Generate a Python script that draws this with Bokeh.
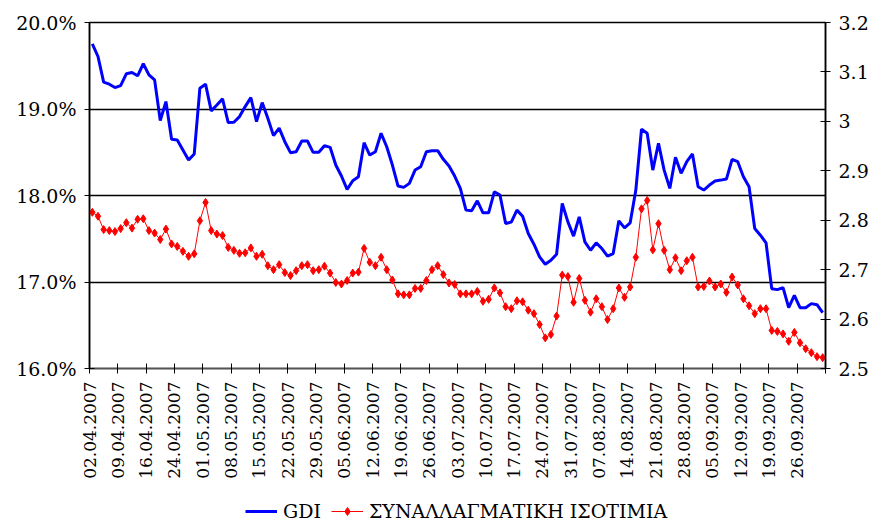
from bokeh.plotting import figure
from bokeh.layouts import column
from bokeh.models import (Range1d, LinearAxis, FixedTicker, Legend, LegendItem,
                          CustomJSTickFormatter)
from bokeh.embed import file_html
from bokeh.resources import INLINE

# ---- data ----
gdi = [19.754, 19.607, 19.311, 19.287, 19.248, 19.271, 19.407, 19.422, 19.384, 19.523,
       19.395, 19.337, 18.866, 19.086, 18.650, 18.642, 18.526, 18.410, 18.480, 19.241,
       19.287, 18.978, 19.047, 19.117, 18.843, 18.847, 18.912, 19.028, 19.132, 18.854,
       19.074, 18.893, 18.692, 18.778, 18.622, 18.495, 18.506, 18.630, 18.630, 18.499,
       18.499, 18.576, 18.557, 18.352, 18.225, 18.071, 18.171, 18.217, 18.611, 18.468,
       18.506, 18.719, 18.564, 18.352, 18.109, 18.094, 18.140, 18.294, 18.333, 18.506,
       18.518, 18.518, 18.418, 18.341, 18.225, 18.082, 17.831, 17.823, 17.939, 17.800,
       17.800, 18.043, 18.005, 17.677, 17.692, 17.831, 17.761, 17.561, 17.437, 17.290,
       17.205, 17.251, 17.321, 17.908, 17.695, 17.530, 17.753, 17.464, 17.367, 17.452,
       17.387, 17.298, 17.329, 17.707, 17.626, 17.684, 18.063, 18.766, 18.719, 18.294,
       18.604, 18.294, 18.082, 18.441, 18.256, 18.391, 18.480, 18.101, 18.063, 18.121,
       18.167, 18.178, 18.190, 18.418, 18.391, 18.217, 18.101, 17.618, 17.541, 17.452,
       16.923, 16.912, 16.935, 16.703, 16.846, 16.703, 16.703, 16.750, 16.738, 16.645]

fx = [2.816, 2.808, 2.781, 2.779, 2.777, 2.783, 2.795, 2.784, 2.802, 2.803,
      2.779, 2.774, 2.761, 2.782, 2.752, 2.747, 2.737, 2.727, 2.732, 2.799,
      2.836, 2.779, 2.772, 2.769, 2.745, 2.739, 2.733, 2.734, 2.744, 2.727,
      2.731, 2.708, 2.700, 2.710, 2.694, 2.688, 2.698, 2.708, 2.710, 2.698,
      2.700, 2.707, 2.693, 2.674, 2.671, 2.678, 2.693, 2.695, 2.743, 2.715,
      2.708, 2.725, 2.700, 2.679, 2.651, 2.649, 2.649, 2.662, 2.662, 2.678,
      2.700, 2.708, 2.690, 2.673, 2.670, 2.651, 2.651, 2.651, 2.656, 2.636,
      2.640, 2.663, 2.653, 2.625, 2.621, 2.637, 2.635, 2.618, 2.611, 2.589,
      2.562, 2.569, 2.606, 2.689, 2.686, 2.634, 2.682, 2.638, 2.614, 2.641,
      2.625, 2.599, 2.621, 2.663, 2.644, 2.665, 2.725, 2.823, 2.840, 2.740,
      2.793, 2.739, 2.700, 2.724, 2.698, 2.718, 2.725, 2.665, 2.666, 2.677,
      2.665, 2.671, 2.654, 2.685, 2.669, 2.641, 2.627, 2.611, 2.621, 2.621,
      2.577, 2.575, 2.570, 2.555, 2.573, 2.552, 2.540, 2.532, 2.524, 2.522]

date_labels = ["02.04.2007", "09.04.2007", "16.04.2007", "24.04.2007", "01.05.2007",
               "08.05.2007", "15.05.2007", "22.05.2007", "29.05.2007", "05.06.2007",
               "12.06.2007", "19.06.2007", "26.06.2007", "03.07.2007", "10.07.2007",
               "17.07.2007", "24.07.2007", "31.07.2007", "07.08.2007", "14.08.2007",
               "21.08.2007", "28.08.2007", "05.09.2007", "12.09.2007", "19.09.2007",
               "26.09.2007"]

left_ticks = [16, 17, 18, 19, 20]
left_labels = ["16.0%", "17.0%", "18.0%", "19.0%", "20.0%"]
right_ticks = [2.5, 2.6, 2.7, 2.8, 2.9, 3.0, 3.1, 3.2]
right_labels = ["2.5", "2.6", "2.7", "2.8", "2.9", "3", "3.1", "3.2"]

series_names = ["GDI", "ΣΥΝΑΛΛΑΓΜΑΤΙΚΗ ΙΣΟΤΙΜΙΑ"]

x = list(range(len(gdi)))
n = len(gdi)

FONT = "DejaVu Serif"
BLUE = "#0000FF"
RED = "#FF0000"

LOOKUP_JS = """
let best = -1, bd = 1e9;
for (let i = 0; i < ticks_.length; i++) {
  const d = Math.abs(ticks_[i] - tick);
  if (d < bd) { bd = d; best = i; }
}
return (best >= 0 && best < labels.length) ? labels[best] : "";
"""

def lookup_formatter(ticks, labels):
    return CustomJSTickFormatter(args=dict(ticks_=list(ticks), labels=list(labels)),
                                 code=LOOKUP_JS)

def style_axis(ax, size):
    ax.minor_tick_line_color = None
    ax.major_tick_in = 5
    ax.major_tick_out = 5
    ax.axis_line_width = 1.5
    ax.major_tick_line_color = "black"
    ax.major_label_text_font = FONT
    ax.major_label_text_font_size = size
    ax.major_label_text_color = "black"

p = figure(width=873, height=483, output_backend="svg", toolbar_location=None,
           x_range=Range1d(-0.5, n - 0.5), y_range=Range1d(16, 20),
           min_border_left=89, min_border_right=48, min_border_top=22,
           min_border_bottom=115)
p.extra_y_ranges = {"right": Range1d(2.5, 3.2)}

p.outline_line_color = "black"
p.outline_line_width = 1.5

# grid
p.xgrid.visible = False
p.ygrid.ticker = FixedTicker(ticks=left_ticks[1:])
p.ygrid.grid_line_color = "black"
p.ygrid.grid_line_width = 1.5

# bottom axis
xticks = [-0.5 + 5 * k for k in range(len(date_labels) + 1)]
xa = p.xaxis[0]
xa.ticker = FixedTicker(ticks=xticks)
xa.formatter = lookup_formatter(xticks, date_labels)
xa.major_label_orientation = 3.14159265 / 2
xa.major_label_standoff = 8
style_axis(xa, "17px")
xa.axis_line_color = "#555555"

# left axis
ya = p.yaxis[0]
ya.ticker = FixedTicker(ticks=left_ticks)
ya.formatter = lookup_formatter(left_ticks, left_labels)
ya.major_label_standoff = 8
style_axis(ya, "19px")
ya.axis_line_color = "black"

# right axis
ra = LinearAxis(y_range_name="right", ticker=FixedTicker(ticks=right_ticks))
ra.formatter = lookup_formatter(right_ticks, right_labels)
ra.major_label_standoff = 8
style_axis(ra, "19px")
ra.axis_line_color = "black"
p.add_layout(ra, "right")

# series
p.line(x, gdi, line_color=BLUE, line_width=3)
p.line(x, fx, line_color=RED, line_width=1, y_range_name="right")
p.scatter(x, fx, marker="diamond", size=8, fill_color=RED,
          line_color=RED, y_range_name="right")

# legend strip below the chart
q = figure(width=873, height=40, output_backend="svg", toolbar_location=None,
           x_range=Range1d(0, 1), y_range=Range1d(0, 1),
           min_border_left=0, min_border_right=0, min_border_top=0,
           min_border_bottom=0)
q.axis.visible = False
q.grid.visible = False
q.outline_line_color = None
lg1 = q.line([5, 6], [5, 6], line_color=BLUE, line_width=3)
lg2 = q.line([5, 6], [5, 6], line_color=RED, line_width=1)
lg3 = q.scatter([5, 6], [5, 6], marker="diamond", size=8, fill_color=RED, line_color=RED)

legend = Legend(items=[LegendItem(label=series_names[0], renderers=[lg1]),
                       LegendItem(label=series_names[1], renderers=[lg2, lg3])],
                orientation="horizontal", location=(156, 1),
                padding=0, margin=0, spacing=10, label_standoff=6,
                glyph_width=32, glyph_height=20,
                border_line_alpha=0, background_fill_alpha=0,
                label_text_font=FONT, label_text_font_size="19px",
                label_text_color="black")
q.add_layout(legend, "center")

layout = column(p, q, spacing=0)
open("out.html", "w").write(file_html(layout, INLINE))
